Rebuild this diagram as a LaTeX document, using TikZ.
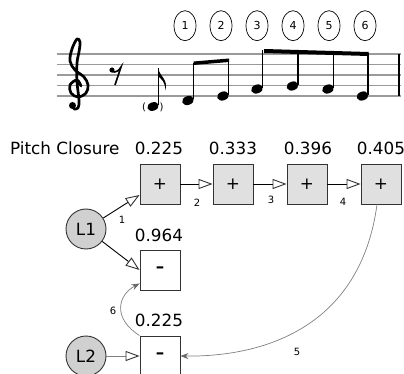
\documentclass[tikz,border=0pt]{standalone}
\usepackage{fontspec}
\setmainfont{DejaVu Sans}
\usetikzlibrary{arrows.meta,calc,shapes.geometric}
\definecolor{boxgray}{HTML}{E0E0E0}
\definecolor{circgray}{HTML}{D0D0D0}
\definecolor{edgedark}{HTML}{333333}
\definecolor{curvegray}{HTML}{808080}
\definecolor{staffgray}{HTML}{9A9A9A}
\begin{document}
\begin{tikzpicture}[x=1pt,y=-1pt,
  big/.style={font=\fontsize{16.8}{20}\selectfont, inner sep=0pt},
  small/.style={font=\fontsize{10}{12}\selectfont, inner sep=0pt},
  plusbox/.style={draw=edgedark, fill=boxgray, minimum size=40pt, inner sep=0pt, line width=0.9pt, font=\fontsize{16.8}{20}\selectfont},
  minusbox/.style={draw=edgedark, fill=white, minimum size=40pt, inner sep=0pt, line width=0.9pt, font=\fontsize{16.8}{20}\selectfont\bfseries},
  lnode/.style={circle, draw=edgedark, fill=circgray, minimum size=40pt, inner sep=0pt, line width=0.9pt, font=\fontsize{16.8}{20}\selectfont},
  numcirc/.style={ellipse, draw=black, line width=0.7pt, minimum width=22pt, minimum height=30pt, inner sep=0pt, font=\fontsize{11}{13}\selectfont},
  openarrow/.style={-{Triangle[length=14pt,width=10pt,fill=white,color=edgedark]}, line width=0.9pt, draw=black},
  grayopen/.style={-{Triangle[length=14pt,width=10pt,fill=white,color=edgedark]}, line width=0.9pt, draw=curvegray},
  curvearrow/.style={-{Stealth[length=8pt,width=6pt,color=curvegray!80!black]}, draw=curvegray, line width=0.7pt},
  staffline/.style={draw=staffgray, line width=1.3pt},
  stem/.style={draw=black, line width=1.1pt}
]
\path[use as bounding box] (0,0) rectangle (404,374);

% ---- staff ----
\foreach \yy in {54,64.5,75,85.5,96}{\draw[staffline] (57,\yy) -- (401,\yy);}
\draw[black, line width=2pt] (398.5,54) -- (398.5,96);

% treble clef
\draw[line width=2.7pt, line cap=round, line join=round] plot[smooth, tension=0.6] coordinates {(81,86) (77,80) (70,85) (71,93) (78,97) (86,93) (88,85) (84,77) (75,70) (70,61) (72,49) (77,39) (80,42) (79,52) (77,63) (77,82) (79,100) (78,108) (74,109)};
\fill (72.5,105.5) circle (3.5);

% eighth rest
\fill (112,70) circle (2.6);
\draw[line width=1.6pt] (112,71.5) .. controls (115,73) and (119,71) .. (121,67) -- (115,85);

% grace note
\fill[rotate around={20:(153,106.5)}] (153,106.5) ellipse (5.8 and 4.2);
\draw[stem] (158.5,105) -- (158.5,68);
\fill (158,68) .. controls (160,77) and (169,80) .. (165,91) .. controls (166,82) and (161,79) .. (158,76) -- cycle;
\node[font=\fontsize{10}{11}\selectfont, inner sep=0pt] (gpl) at (144,107) {(};
\node[font=\fontsize{10}{11}\selectfont, inner sep=0pt] (gpr) at (161.5,107) {)};

% beamed notes
\foreach \hx/\hy/\st in {188/100.5/63, 223/96/60, 257/89/50, 292.5/86/51, 328/89/52, 362.5/96/53.5}{
  \fill[rotate around={20:(\hx,\hy)}] (\hx,\hy) ellipse (6 and 4.4);
  \draw[stem] ($(\hx,\hy)+(5.5,-1)$) -- ($(\hx,0)+(5.5,\st)$);
}
\fill (193.5,61.5) -- (229,58.5) -- (229,62) -- (193.5,65) -- cycle;
\fill (264,49) -- (368.5,52) -- (368.5,56) -- (264,53) -- cycle;

% circled numbers
\foreach \i/\cx in {1/185,2/221,3/257,4/293,5/329,6/365}{
  \node[numcirc] (c\i) at (\cx,25.7) {\i};
}

% ---- graph ----
\node[big, anchor=base west] (title) at (10,155) {Pitch Closure};
\node[big, anchor=base] (v1) at (159,155) {0.225};
\node[big, anchor=base] (v2) at (233,155) {0.333};
\node[big, anchor=base] (v3) at (308,155) {0.396};
\node[big, anchor=base] (v4) at (381,155) {0.405};
\node[big, anchor=base] (v5) at (159,241.5) {0.964};
\node[big, anchor=base] (v6) at (159,326.7) {0.225};

\node[plusbox] (b1) at (160,184) {+};
\node[plusbox] (b2) at (233,184) {+};
\node[plusbox] (b3) at (307,184) {+};
\node[plusbox] (b4) at (381,184) {+};
\node[minusbox] (m1) at (160,270) {–};
\node[minusbox] (m2) at (160,356) {–};
\node[lnode] (L1) at (86,229) {L1};
\node[lnode] (L2) at (86,356) {L2};

\draw[openarrow] (L1) -- ($(b1.west)+(0,11)$);
\draw[openarrow] (L1) -- (m1.west);
\draw[openarrow] (b1) -- (b2);
\draw[openarrow] (b2) -- (b3);
\draw[openarrow] (b3) -- (b4);
\draw[grayopen] (L2) -- (m2);
\draw[curvearrow] ($(b4.south)+(-4,0)$) .. controls (360,330) and (260,357) .. (m2.east);
\draw[curvearrow] (m2.north west) .. controls (112,318) and (118,295) .. ($(m1.south west)+(0,-7)$);

\node[small] (e1) at (122,220) {1};
\node[small] (e2) at (197,203) {2};
\node[small] (e3) at (271,200) {3};
\node[small] (e4) at (343,202) {4};
\node[small] (e5) at (297,352) {5};
\node[small] (e6) at (113,311) {6};
\end{tikzpicture}
\end{document}
